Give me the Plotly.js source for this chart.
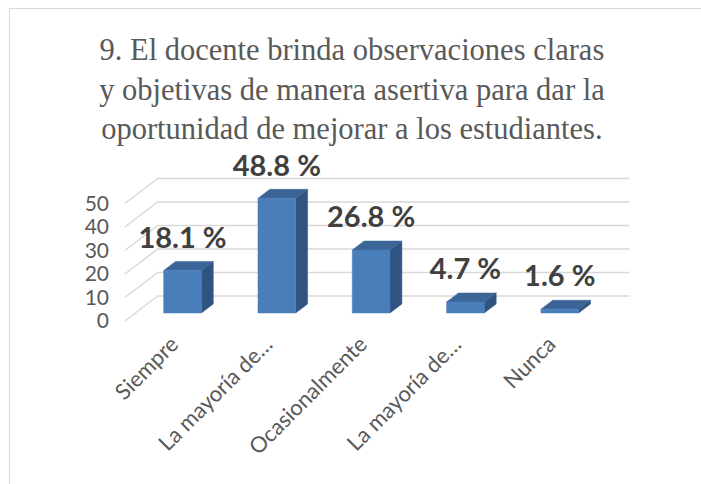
<!DOCTYPE html>
<html>
<head>
<meta charset="utf-8">
<script src="https://cdn.plot.ly/plotly-3.0.1.min.js"></script>
<style>
html,body{margin:0;padding:0;background:#fff;}
#wrap{position:relative;width:701px;height:484px;overflow:hidden;}
#chart{width:701px;height:484px;}
#frame{position:absolute;left:9px;top:8px;width:760px;height:560px;border-left:1.5px solid #d9d9d9;border-top:1.5px solid #d9d9d9;pointer-events:none;}
</style>
</head>
<body>
<div id="wrap"><div id="chart"></div><div id="frame"></div></div>
<script>
// ---- data ----
const categories = ['Siempre', 'La mayoría de…', 'Ocasionalmente', 'La mayoría de…', 'Nunca'];
const values = [18.1, 48.8, 26.8, 4.7, 1.6];
const labels = ['18.1 %', '48.8 %', '26.8 %', '4.7 %', '1.6 %'];
const yTicks = [0, 10, 20, 30, 40, 50];
const titleText = '9. El docente brinda observaciones claras<br>y objetivas de manera asertiva para dar la<br>oportunidad de mejorar a los estudiantes.';

// ---- pseudo-3D projection (depth offsets in axis units) ----
const DX = 0.35, DY = 10.64;   // full floor depth offset
const T0 = 0.32, T1 = 0.68;    // bar front / back depth
const HW = 0.2;                // half bar width
const idx = categories.map((_, i) => i);
function P(c, v, t) { return [c + t * DX, v + t * DY]; }

function poly(list) {
  const xs = [], ys = [];
  list.forEach(pts => {
    pts.forEach(p => { xs.push(p[0]); ys.push(p[1]); });
    xs.push(pts[0][0]); ys.push(pts[0][1]);
    xs.push(null); ys.push(null);
  });
  return {x: xs, y: ys};
}

// gridlines
const gx = [], gy = [];
const cMin = -0.5, cMax = categories.length - 0.5;
yTicks.forEach(v => {
  [P(cMin, v, 0), P(cMin, v, 1), P(cMax, v, 1)].forEach(p => { gx.push(p[0]); gy.push(p[1]); });
  gx.push(null); gy.push(null);
});

const fronts = [], sides = [], tops = [];
idx.forEach(i => {
  const v = values[i];
  fronts.push([P(i - HW, 0, T0), P(i + HW, 0, T0), P(i + HW, v, T0), P(i - HW, v, T0)]);
  sides.push([P(i + HW, 0, T0), P(i + HW, 0, T1), P(i + HW, v, T1), P(i + HW, v, T0)]);
  tops.push([P(i - HW, v, T0), P(i + HW, v, T0), P(i + HW, v, T1), P(i - HW, v, T1)]);
});
const F = poly(fronts), S = poly(sides), T = poly(tops);

const traces = [
  {type: 'scatter', mode: 'lines', x: gx, y: gy, line: {color: '#d9d9d9', width: 1.5}, hoverinfo: 'skip', showlegend: false},
  {type: 'scatter', mode: 'lines', x: S.x, y: S.y, fill: 'toself', fillcolor: '#2f5481', line: {color: '#2f5481', width: 0.5}, hoverinfo: 'skip', showlegend: false},
  {type: 'scatter', mode: 'lines', x: T.x, y: T.y, fill: 'toself', fillcolor: '#3c6597', line: {color: '#3c6597', width: 0.5}, hoverinfo: 'skip', showlegend: false},
  {type: 'scatter', mode: 'lines', x: F.x, y: F.y, fill: 'toself', fillcolor: '#4a7ebb', line: {color: '#4a7ebb', width: 0.5}, hoverinfo: 'skip', showlegend: false},
  {type: 'scatter', mode: 'text', x: idx.map(i => i + T0 * DX), y: values.map(v => v + 16.2),
   text: labels, textposition: 'middle center', cliponaxis: false,
   textfont: {family: 'Lato, sans-serif', size: 29, color: '#404040', weight: 'bold'}, hoverinfo: 'skip', showlegend: false}
];

const layout = {
  width: 701, height: 484,
  margin: {l: 110, r: 61, t: 150, b: 158},
  paper_bgcolor: '#ffffff', plot_bgcolor: 'rgba(0,0,0,0)',
  showlegend: false,
  title: {text: titleText, font: {family: '"Liberation Serif", "Times New Roman", serif', size: 30.5, color: '#595959'},
          x: 0.502, xref: 'container', xanchor: 'center', y: 1 - 60 / 484, yref: 'container', yanchor: 'top'},
  xaxis: {range: [-0.657, 4.963], tickvals: idx, ticktext: categories, tickangle: -45,
          showgrid: false, zeroline: false, showline: false, ticks: '',
          tickfont: {family: 'Lato, sans-serif', size: 22, color: '#595959'}},
  yaxis: {range: [-2.13, 72.77], tickvals: yTicks, ticktext: yTicks.map(String),
          showgrid: false, zeroline: false, showline: false, ticks: '',
          tickfont: {family: 'Lato, sans-serif', size: 21, color: '#595959'}}
};

Plotly.newPlot('chart', traces, layout, {staticPlot: true, displayModeBar: false});
</script>
</body>
</html>
